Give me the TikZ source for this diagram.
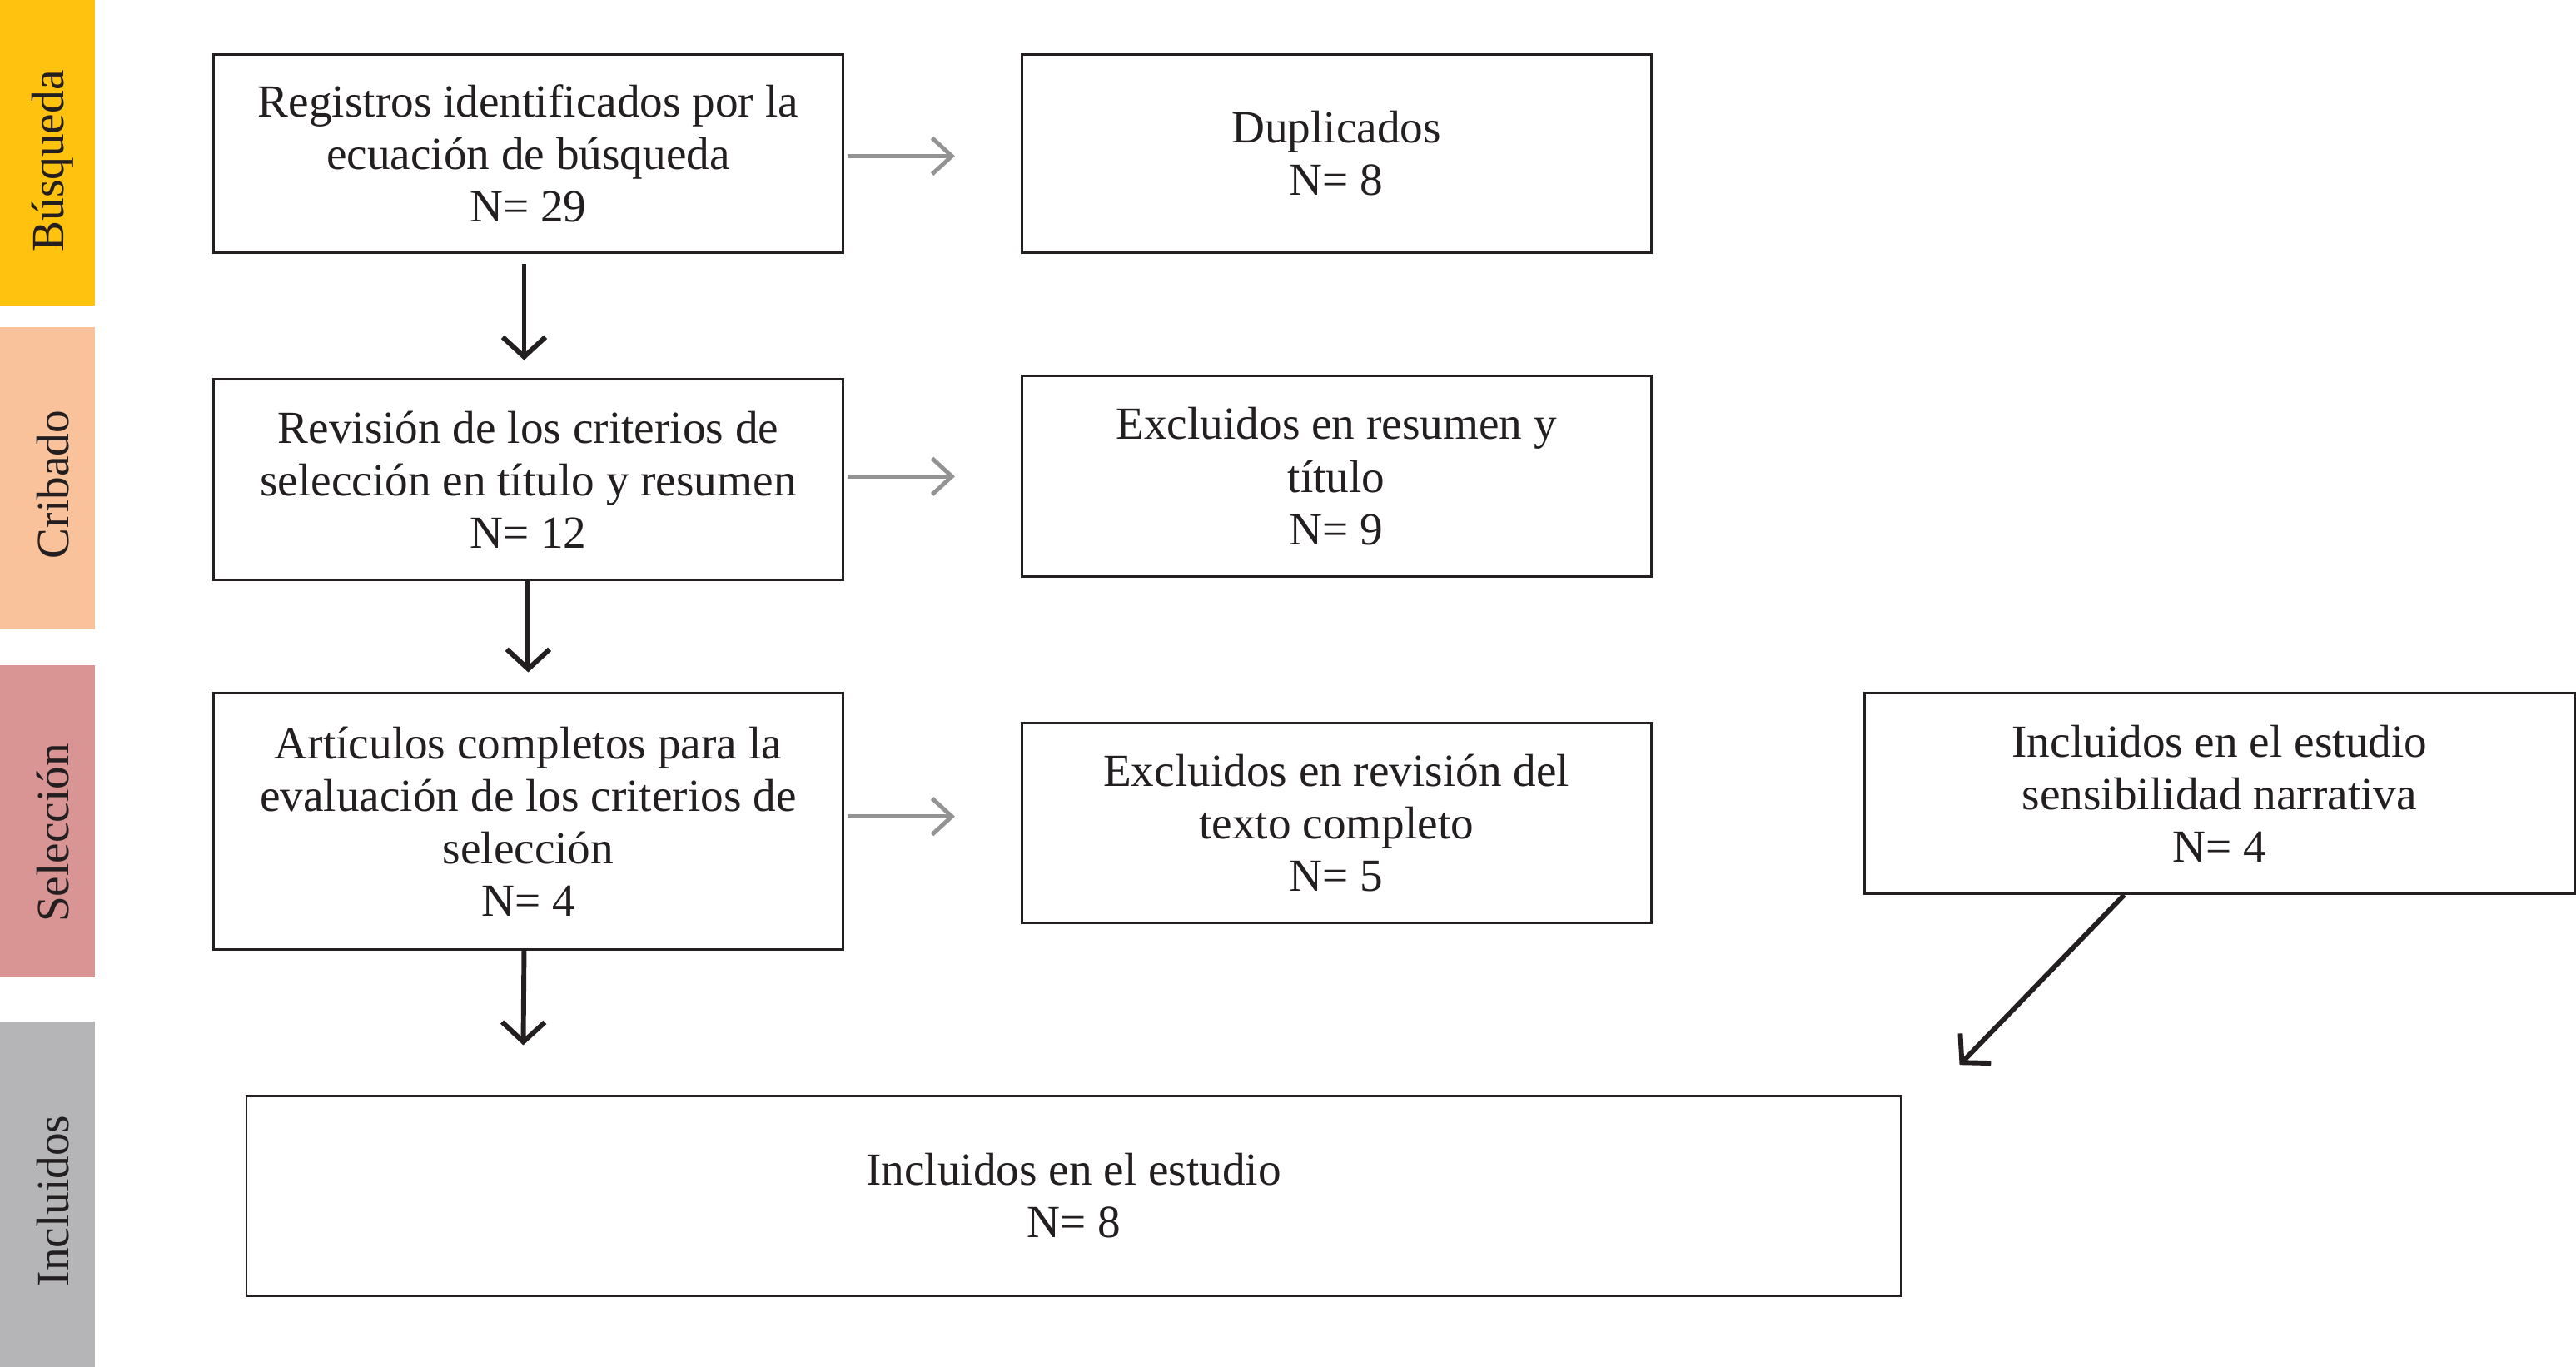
\documentclass[tikz,border=0pt]{standalone}
\usepackage{fontspec}
\setmainfont{Liberation Serif}
\usetikzlibrary{arrows.meta,calc}
\definecolor{cy}{HTML}{FFC20E}
\definecolor{cp}{HTML}{F9C29A}
\definecolor{cr}{HTML}{D99594}
\definecolor{cg}{HTML}{B5B5B7}
\definecolor{tx}{HTML}{231F20}
\begin{document}
\begin{tikzpicture}[x=1pt,y=-1pt,
 box/.style={draw=tx,line width=1.5pt,align=center,text=tx,inner sep=0pt,font=\fontsize{28}{32}\selectfont},
 bar/.style={inner sep=0pt,font=\fontsize{28}{32}\selectfont,text=tx,rotate=90},
 ga/.style={draw=gray!85,line width=2.5pt,-{Straight Barb[length=12pt,width=22pt,line width=2.5pt]}},
 ba/.style={draw=tx,line width=3pt,-{Straight Barb[length=12pt,width=26pt,line width=3pt]}}]
\useasboundingbox (0,0) rectangle (1568,832);
\fill[cy] (0,0) rectangle (58,186);
\fill[cp] (0,199) rectangle (58,383);
\fill[cr] (0,405) rectangle (58,595);
\fill[cg] (0,622) rectangle (58,832);
\node[bar] (l1) at (32,98) {Búsqueda};
\node[bar] (l2) at (32,295) {Cribado};
\node[bar] (l3) at (32,507) {Selección};
\node[bar] (l4) at (32,731) {Incluidos};
\node[box,minimum width=383,minimum height=121] (A) at (321.5,93.5) {Registros identificados por la\\ecuación de búsqueda\\N= 29};
\node[box,minimum width=383,minimum height=121] (B) at (813.5,93.5) {Duplicados\\N= 8};
\node[box,minimum width=383,minimum height=122] (C) at (321.5,292) {Revisión de los criterios de\\selección en título y resumen\\N= 12};
\node[box,minimum width=383,minimum height=122] (D) at (813.5,290) {Excluidos en resumen y\\título\\N= 9};
\node[box,minimum width=383,minimum height=156] (E) at (321.5,500) {Artículos completos para la\\evaluación de los criterios de\\selección\\N= 4};
\node[box,minimum width=383,minimum height=122] (F) at (813.5,501) {Excluidos en revisión del\\texto completo\\N= 5};
\node[box,minimum width=432,minimum height=122] (G) at (1351,483) {Incluidos en el estudio\\sensibilidad narrativa\\N= 4};
\node[box,minimum width=1007,minimum height=122] (H) at (653.5,728) {Incluidos en el estudio\\N= 8};
\draw[ga] ($(A.east)+(2,1.5)$) -- ($(B.west)+(-40,1.5)$);
\draw[ga] ($(C.east)+(2,-2)$) -- ($(D.west)+(-40,0)$);
\draw[ga] ($(E.east)+(2,-3)$) -- ($(F.west)+(-40,-4)$);
\draw[ba] ($(A.south)+(-2.5,6)$) -- ($(C.north)+(-2.5,-11)$);
\draw[ba] (C.south) -- ($(E.north)+(0,-12)$);
\draw[ba] ($(E.south)+(-2.5,0)$) -- ($(H.north)+(-335,-30)$);
\draw[ba] ($(G.south)+(-58,0)$) -- ($(H.north east)+(35,-18)$);
\end{tikzpicture}
\end{document}
